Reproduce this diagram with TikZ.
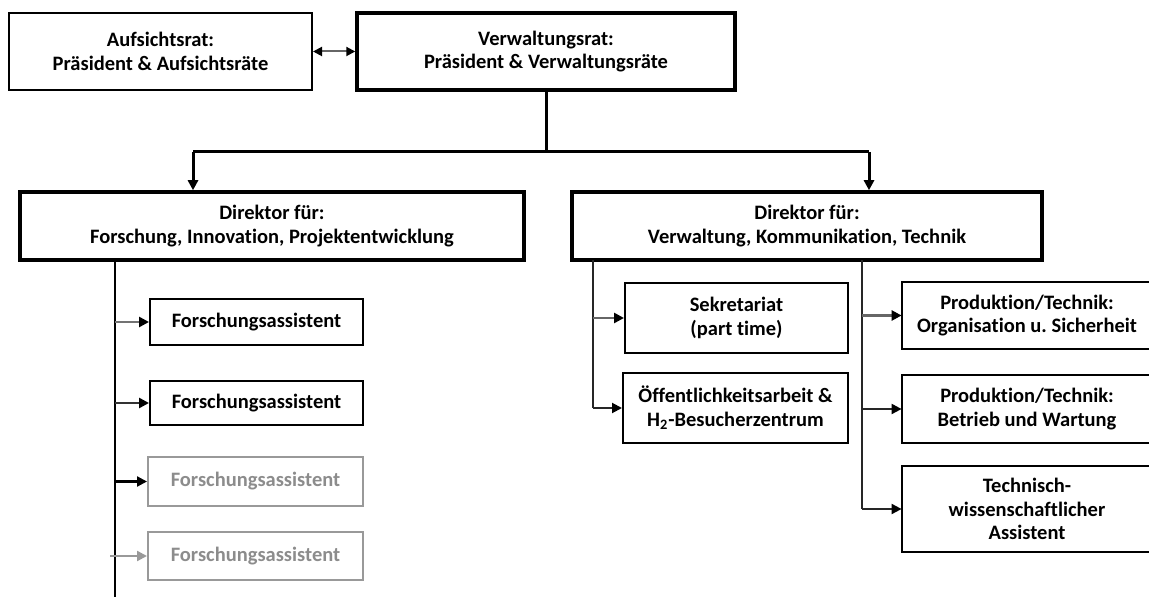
\documentclass[tikz,border=0pt]{standalone}
\usepackage{fontspec}
\setmainfont[Ligatures=NoCommon]{Carlito}
\usetikzlibrary{arrows.meta,calc}
\begin{document}
\begin{tikzpicture}[x=0.5pt,y=-0.5pt,
  txt/.style={font=\bfseries\fontsize{10.25}{11.9}\selectfont, align=center, inner sep=0pt},
  thinbox/.style={txt, rectangle, draw=black, line width=1pt},
  openbox/.style={txt, rectangle},
  openline/.style={draw=black, line width=1pt},
  thickbox/.style={txt, rectangle, draw=black, line width=1.75pt},
  graybox/.style={txt, rectangle, draw=black!40, text=black!45, line width=1pt},
  conn/.style={line width=1.5pt, draw=black},
  branch/.style={line width=1pt, draw=black!85},
  tip/.style={-{Triangle[length=5pt,width=5pt,color=black]}},
  graytip/.style={-{Triangle[length=5pt,width=5pt,color=black!40]}},
  dtip/.style={{Triangle[length=4.5pt,width=4.5pt,color=black]}-{Triangle[length=4.5pt,width=4.5pt,color=black]}},
]
\useasboundingbox (0,0) rectangle (1149,597);
\clip (0,0) rectangle (1149,597);

% top level
\node[thinbox, minimum width=151.5pt, minimum height=38.5pt] (A) at (160.5,51.5) {Aufsichtsrat:\\Präsident \& Aufsichtsräte};
\node[thickbox, minimum width=189pt, minimum height=38.5pt] (V) at (546,51.5) {Verwaltungsrat:\\Präsident \& Verwaltungsräte};
\draw[dtip, line width=1pt, draw=black!60] (A.east) -- (V.west);

% directors
\node[thickbox, minimum width=252pt, minimum height=34pt] (DL) at (272,226) {Direktor für:\\Forschung, Innovation, Projektentwicklung};
\node[thickbox, minimum width=235pt, minimum height=34pt] (DR) at (807,226) {Direktor für:\\Verwaltung, Kommunikation, Technik};

\coordinate (j) at (546,152);
\coordinate (jl) at (193,152);
\coordinate (jr) at (869,152);
\draw[conn] (V.south) -- (j);
\draw[conn] (jl) -- (jr);
\draw[conn, tip] (jl) -- (jl |- DL.north);
\draw[conn, tip] (jr) -- (jr |- DR.north);

% left column
\node[thinbox, minimum width=106.5pt, minimum height=23pt] (F1) at (256.5,322) {Forschungsassistent};
\node[thinbox, minimum width=106.5pt, minimum height=22pt] (F2) at (256.5,403) {Forschungsassistent};
\node[graybox, minimum width=107.5pt, minimum height=24.5pt] (F3) at (255.5,481.5) {Forschungsassistent};
\node[graybox, minimum width=107.5pt, minimum height=24pt] (F4) at (255.5,556) {Forschungsassistent};

\coordinate (lc) at (115,260);
\coordinate (lb) at (115,600);
\draw[line width=1pt, draw=black] (lc) -- (lb);
\draw[line width=1.3pt, draw=black!55, tip] (lc |- F1.west) -- (F1.west);
\draw[line width=1.3pt, draw=black!80, tip] (lc |- F2.west) -- (F2.west);
\draw[line width=1.1pt, draw=black, tip] (lc |- F3.west) -- (F3.west);
\coordinate (f4s) at (110,556);
\draw[line width=1.1pt, draw=black!40, graytip] (f4s) -- (F4.west);

% right column: left branch
\node[thinbox, minimum width=111.5pt, minimum height=35pt] (S) at (736.5,318) {Sekretariat\\(part time)};
\node[thinbox, minimum width=112.5pt, minimum height=35pt] (O) at (735.5,408) {Öffentlichkeitsarbeit \&\\H\textsubscript{2}-Besucherzentrum};

\coordinate (rl) at (593,260);
\draw[branch] (rl) -- (rl |- O.west);
\draw[branch, line width=1.3pt, draw=black!60, tip] (rl |- S.west) -- (S.west);
\draw[branch, tip] (rl |- O.west) -- (O.west);

% right column: right branch (boxes run past the right edge, no right side visible)
\node[openbox, minimum width=125pt, minimum height=33.5pt] (P1) at (1027,315.5) {Produktion/Technik:\\Organisation u.\ Sicherheit};
\node[openbox, minimum width=125pt, minimum height=34pt] (P2) at (1027,409) {Produktion/Technik:\\Betrieb und Wartung};
\node[openbox, minimum width=125pt, minimum height=43pt] (T) at (1027,509) {Technisch-\\wissenschaftlicher\\Assistent};
\draw[openline] ($(P1.north east)+(20,0)$) -- (P1.north west) -- (P1.south west) -- ($(P1.south east)+(20,0)$);
\draw[openline] ($(P2.north east)+(20,0)$) -- (P2.north west) -- (P2.south west) -- ($(P2.south east)+(20,0)$);
\draw[openline] ($(T.north east)+(20,0)$) -- (T.north west) -- (T.south west) -- ($(T.south east)+(20,0)$);

\coordinate (rr) at (862,260);
\draw[branch] (rr) -- (rr |- T.west);
\draw[branch, line width=1.3pt, draw=black!60, tip] (rr |- P1.west) -- (P1.west);
\draw[branch, tip] (rr |- P2.west) -- (P2.west);
\draw[branch, tip] (rr |- T.west) -- (T.west);
\end{tikzpicture}
\end{document}
